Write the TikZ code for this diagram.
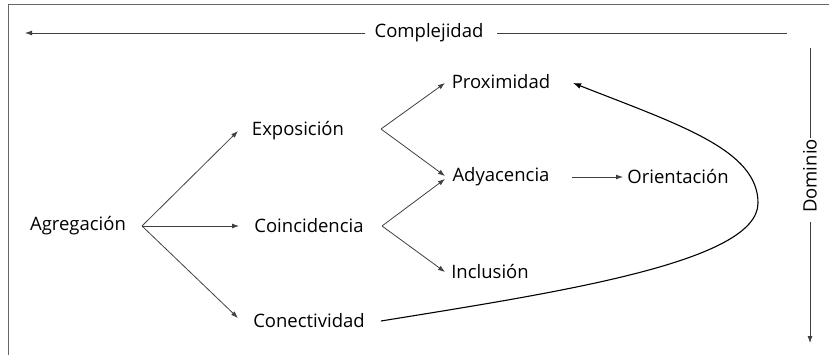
\documentclass[tikz,border=0pt]{standalone}
\usepackage{fontspec}
\setmainfont{Open Sans}
\usetikzlibrary{arrows.meta}
\begin{document}
\begin{tikzpicture}[x=1pt,y=-1pt,
  lbl/.style={inner sep=0pt,font=\fontsize{18.5}{21}\selectfont},
  conn/.style={draw=black!75,line width=0.8pt,-{Latex[length=7pt,width=5pt]}},
  plain/.style={draw=black!75,line width=0.8pt},
  loopc/.style={draw=black,line width=1.1pt,-{Latex[length=8pt,width=6pt]}},
  frame/.style={draw=black!60,line width=1.5pt}]
\useasboundingbox (0,0) rectangle (829,355);
\draw[frame] (829,4.5) -- (8.5,4.5) -- (8.5,355);
% nodes
\node[lbl] (comp) at (429,33) {Complejidad};
\node[lbl,rotate=90] (dom) at (810,176) {Dominio};
\node[lbl] (agg) at (78,226) {Agregación};
\node[lbl] (expo) at (298,131) {Exposición};
\node[lbl] (coin) at (309,226) {Coincidencia};
\node[lbl] (conec) at (309,321) {Conectividad};
\node[lbl] (prox) at (501,82) {Proximidad};
\node[lbl] (ady) at (501,177) {Adyacencia};
\node[lbl] (orie) at (678,177) {Orientación};
\node[lbl] (incl) at (490,272) {Inclusión};
% axis lines
\coordinate (cl) at (25,33);
\coordinate (cr) at (787,33);
\coordinate (dt) at (810,48);
\coordinate (db) at (810,343);
\draw[conn] ([shift={(-64,0)}]comp.center) -- (cl);
\draw[plain] ([shift={(68,0)}]comp.center) -- (cr);
\draw[plain] ([shift={(0,-38)}]dom.center) -- (dt);
\draw[conn] ([shift={(0,46)}]dom.center) -- (db);
% connectors
\draw[conn] ([shift={(64,0)}]agg.center) -- ([shift={(-60,0)}]expo.center);
\draw[conn] ([shift={(64,0)}]agg.center) -- ([shift={(-70,0)}]coin.center);
\draw[conn] ([shift={(64,0)}]agg.center) -- ([shift={(-71,-3)}]conec.center);
\draw[conn] ([shift={(83,-2)}]expo.center) -- ([shift={(-56,1)}]prox.center);
\draw[conn] ([shift={(83,-2)}]expo.center) -- ([shift={(-56,-1)}]ady.center);
\draw[conn] ([shift={(73,0)}]coin.center) -- ([shift={(-56,2)}]ady.center);
\draw[conn] ([shift={(73,0)}]coin.center) -- ([shift={(-45,0)}]incl.center);
\draw[conn] ([shift={(71,0)}]ady.center) -- ([shift={(-55,0)}]orie.center);
\draw[loopc] ([shift={(72,0)}]conec.center) .. controls (560,292) and (758,262) .. (758,203)
  .. controls (758,150) and (680,125) .. ([shift={(72,1)}]prox.center);
\end{tikzpicture}
\end{document}
